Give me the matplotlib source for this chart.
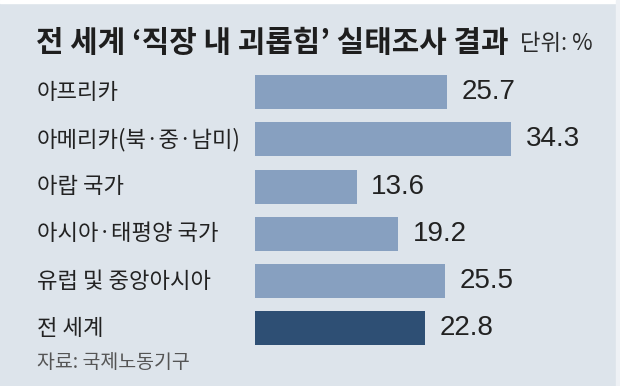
import matplotlib
matplotlib.use('Agg')
from matplotlib import pyplot as plt
from matplotlib.patches import Rectangle
import matplotlib.transforms as mtransforms

plt.rcParams['font.family'] = ['Noto Sans CJK KR', 'DejaVu Sans']

regions = ['아프리카', '아메리카(북·중·남미)', '아랍 국가', '아시아·태평양 국가', '유럽 및 중앙아시아', '전 세계']
values = [25.7, 34.3, 13.6, 19.2, 25.5, 22.8]
highlight = '전 세계'

bg = '#dde4eb'
light = '#87a0c0'
dark = '#2e4f74'

W, H = 620, 386
fig = plt.figure(figsize=(W / 100, H / 100), dpi=100, facecolor=bg)

# thin white margins at top and right like the scan
fig.patches.append(Rectangle((0, 1 - 3 / H), 1, 3 / H, transform=fig.transFigure,
                             color='white', zorder=-1))
fig.patches.append(Rectangle((1 - 4 / W, 0), 4 / W, 1, transform=fig.transFigure,
                             color='#eef1f5', zorder=-1))

# axes placed in pixel terms: bars start at x=255, rows from y=68 to y=352
left, right = 255, 616
top, bottom = 68.5, 352
ax = fig.add_axes([left / W, 1 - bottom / H, (right - left) / W, (bottom - top) / H])
ax.set_facecolor('none')
px_per_unit = 7.47
ax.set_xlim(0, (right - left) / px_per_unit)
ax.set_ylim(len(regions) - 0.5, -0.5)

colors = [dark if r == highlight else light for r in regions]
ax.barh(range(len(regions)), values, height=0.72, color=colors)

for i, v in enumerate(values):
    ax.annotate(f'{v}', (v, i), xytext=(10.5, 0), textcoords='offset points',
                va='center', ha='left', fontsize=20, color='#222222',
                family=['Liberation Sans Narrow', 'Liberation Sans', 'DejaVu Sans'])

label_tr = mtransforms.blended_transform_factory(fig.transFigure, ax.transData)
for i, r in enumerate(regions):
    ax.text(37 / W, i, r, transform=label_tr, va='center', ha='left',
            fontsize=16, color='#222222')

ax.axis('off')

fig.text(36 / W, 1 - 43 / H, '전 세계 ‘직장 내 괴롭힘’ 실태조사 결과', fontsize=21.5,
         fontweight='bold', color='#1e1e1e', va='center', ha='left')
fig.text(520 / W, 1 - 44 / H, '단위: %', fontsize=16, color='#2a2a2a',
         va='center', ha='left')
fig.text(37 / W, 1 - 362 / H, '자료: 국제노동기구', fontsize=14, color='#555555',
         va='center', ha='left')

fig.savefig('out.png', dpi=100, facecolor=bg)
